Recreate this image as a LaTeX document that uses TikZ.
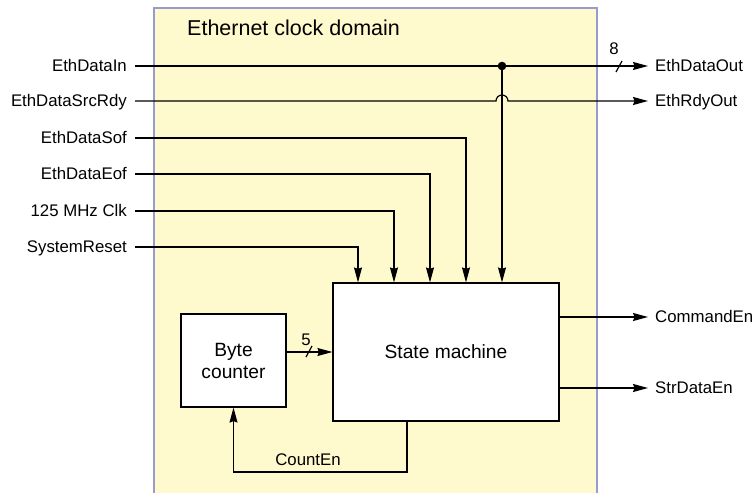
\documentclass[tikz,border=0pt]{standalone}
\usepackage{fontspec}
\setmainfont{Liberation Sans}
\usetikzlibrary{arrows.meta,calc}
\definecolor{domfill}{RGB}{255,249,206}
\definecolor{domline}{RGB}{150,156,206}
\begin{document}
\begin{tikzpicture}[x=1pt,y=-1pt,
  wire/.style={line width=1.2pt},
  arr/.style={wire,-{Stealth[length=15pt,width=8pt,inset=1.5pt]}},
  inlbl/.style={anchor=east,inner xsep=8pt,inner ysep=0pt,text height=11.9pt,text depth=0pt,font=\fontsize{16.8}{19}\selectfont},
  outlbl/.style={anchor=west,inner xsep=7pt,inner ysep=0pt,text height=11.9pt,text depth=0pt,font=\fontsize{16.8}{19}\selectfont},
  blk/.style={draw,line width=1.2pt,fill=white,align=center,font=\fontsize{19.2}{22}\selectfont,inner sep=0pt},
  small/.style={font=\fontsize{16.8}{19}\selectfont,inner sep=0pt}
]
\useasboundingbox (0,0) rectangle (753,493);
\begin{scope}
\clip (0,0) rectangle (753,493);
\draw[domline,line width=2.4pt,fill=domfill] (154,8) rectangle (597,520);
\end{scope}
\node[anchor=base west,inner sep=0pt,font=\fontsize{21.5}{24}\selectfont] (title) at (187,35) {Ethernet clock domain};

% input labels
\node[inlbl] (iData) at (135,66) {EthDataIn};
\node[inlbl] (iRdy) at (135,101) {EthDataSrcRdy};
\node[inlbl] (iSof) at (135,138) {EthDataSof};
\node[inlbl] (iEof) at (135,174) {EthDataEof};
\node[inlbl] (iClk) at (135,211) {125 MHz Clk};
\node[inlbl] (iRst) at (135,247) {SystemReset};

% output labels
\node[outlbl] (oData) at (648,66) {EthDataOut};
\node[outlbl] (oRdy) at (648,101) {EthRdyOut};
\node[outlbl] (oCmd) at (648,317) {CommandEn};
\node[outlbl] (oStr) at (648,388) {StrDataEn};

% blocks
\node[blk,minimum width=226pt,minimum height=138pt] (sm) at (446,352) {State machine};
\node[blk,minimum width=105pt,minimum height=93pt] (bc) at (233.5,360.5) {Byte\\counter};

% columns
\coordinate (c1) at (358,0);
\coordinate (c2) at (394,0);
\coordinate (c3) at (430,0);
\coordinate (c4) at (466,0);
\coordinate (j) at (502,66);

% EthDataIn bus
\draw[arr] (iData.east) -- (oData.west);
\fill (j) circle (4.3pt);
\draw[arr] (j) -- (j |- sm.north);
\draw[wire] (616,72) -- (622,61);
\node[small] (n8) at (614,49) {8};

% EthDataSrcRdy with hop
\draw[arr] (iRdy.east) -- ($(j |- iRdy.east)+(-6,0)$) arc[start angle=180,end angle=0,radius=6pt] -- (oRdy.west);

% other inputs
\draw[arr] (iSof.east) -| (c4 |- sm.north);
\draw[arr] (iEof.east) -| (c3 |- sm.north);
\draw[arr] (iClk.east) -| (c2 |- sm.north);
\draw[arr] (iRst.east) -| (c1 |- sm.north);

% outputs
\draw[arr] (sm.east |- oCmd.west) -- (oCmd.west);
\draw[arr] (sm.east |- oStr.west) -- (oStr.west);

% byte counter bus
\coordinate (bus) at (0,352);
\draw[arr] (bc.east |- bus) -- (sm.west |- bus);
\draw[wire] (306,357) -- (312,346);
\node[small] (n5) at (306,340) {5};

% CountEn feedback
\coordinate (ce) at (407,472);
\draw[arr] (sm.south -| ce) -- (ce) -| (bc.south);
\node[small] (lce) at (308,460) {CountEn};
\end{tikzpicture}
\end{document}
